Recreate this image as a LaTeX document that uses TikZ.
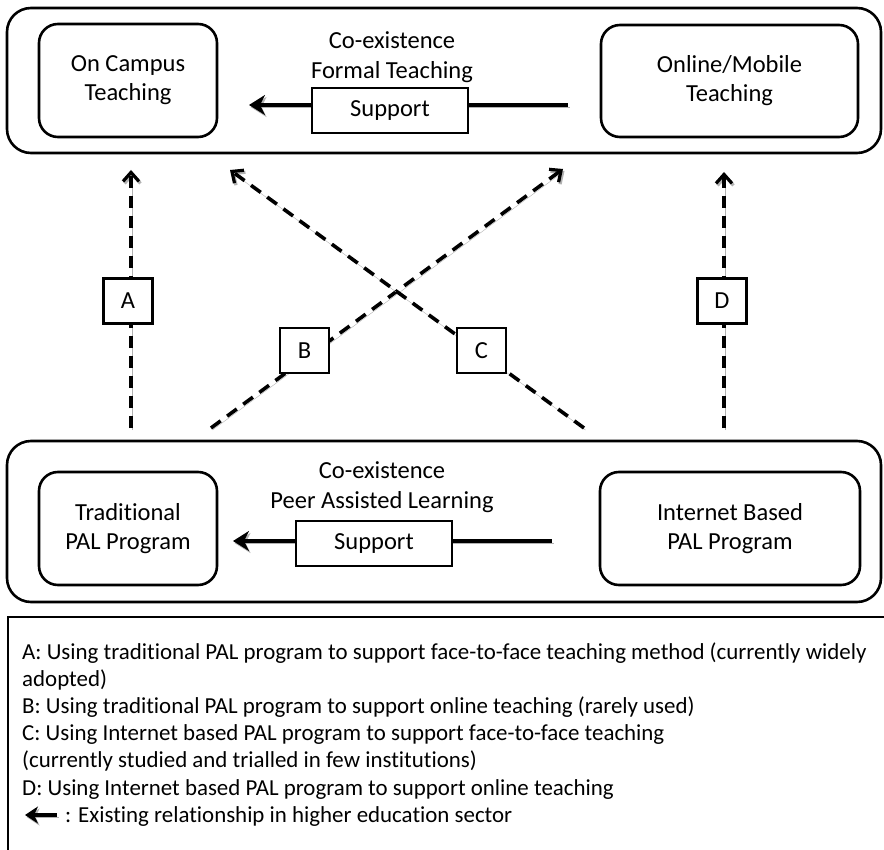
\documentclass[tikz,border=0pt]{standalone}
\usepackage{fontspec}
\setmainfont{Carlito}[Ligatures=NoCommon]
\usetikzlibrary{arrows.meta,positioning}
\tikzset{
  shade/.style={preaction={draw=gray!60, transform canvas={shift={(1.5pt,-2pt)}}}},
  grp/.style={draw, line width=2.6pt, rounded corners=24pt, inner sep=0pt},
  unit/.style={draw, line width=2.6pt, rounded corners=19pt, align=center, inner sep=0pt, font=\fontsize{24.5}{29}\selectfont},
  title/.style={align=center, font=\fontsize{24.5}{30}\selectfont},
  suppbox/.style={draw, line width=2.2pt, fill=white, minimum width=156pt, minimum height=45pt, inner sep=0pt, font=\fontsize{24.5}{29}\selectfont},
  tag/.style={draw, line width=2.2pt, fill=white, minimum width=49pt, minimum height=45pt, inner sep=0pt, font=\fontsize{24.5}{29}\selectfont},
  rel/.style={shade, line width=4.5pt, -{Stealth[length=16pt,width=20pt,inset=5pt]}},
  link/.style={shade, line width=3.6pt, dash pattern=on 12pt off 8pt, -{Straight Barb[length=9pt,width=16pt,line width=3.2pt]}},
  note/.style={anchor=base west, inner sep=0pt, font=\fontsize{22.9}{27}\selectfont}
}
\begin{document}
\begin{tikzpicture}[x=1pt,y=-1pt]
    \useasboundingbox (0,0) rectangle (884,850);
    \clip (0,0) rectangle (884,850);
    \node[grp, minimum width=874pt, minimum height=145pt] (formal) at (444,80.5) {};
    \node[grp, minimum width=874pt, minimum height=161pt] (pal) at (444,521.5) {};
    \node[unit, minimum width=178pt, minimum height=113pt] (campus) at (128,80.5) {On Campus\\Teaching};
    \node[unit, minimum width=257pt, minimum height=112pt] (online) at (729.5,81) {Online/Mobile\\Teaching};
    \node[unit, minimum width=178pt, minimum height=113pt] (trad) at (128,528.5) {Traditional\\PAL Program};
    \node[unit, minimum width=260pt, minimum height=113pt] (inet) at (730,528.5) {Internet Based\\PAL Program};
    \node[title] (ftitle) at (392,57) {Co-existence\\Formal Teaching};
    \node[title] (ptitle) at (382,487.5) {Co-existence\\Peer Assisted Learning};
    \coordinate (f1) at (568,105);
    \coordinate (f0) at (249,105);
    \coordinate (p1) at (552,541);
    \coordinate (p0) at (233,541);
    \draw[rel] (f1) -- (f0);
    \draw[rel] (p1) -- (p0);
    \node[suppbox] (fsupp) at (390,110.5) {Support};
    \node[suppbox] (psupp) at (374,543.5) {Support};
    \coordinate (a0) at (131,428);
    \coordinate (a1) at (131,170);
    \coordinate (b0) at (211,428);
    \coordinate (b1) at (563,169);
    \coordinate (c0) at (584,428);
    \coordinate (c1) at (230,170);
    \coordinate (d0) at (724,428);
    \coordinate (d1) at (724,172);
    \draw[link] (a0) -- (a1);
    \draw[link] (b0) -- (b1);
    \draw[link] (c0) -- (c1);
    \draw[link] (d0) -- (d1);
    \node[tag] (ta) at (128,301) {A};
    \node[tag] (tb) at (304.5,350.5) {B};
    \node[tag] (tc) at (481.5,350.5) {C};
    \node[tag] (td) at (722,301) {D};
    \draw[line width=2.2pt] (8,900) -- (8,617) -- (900,617);
    \foreach \t [count=\i from 0] in {
        {A: Using traditional PAL program to support face-to-face teaching method (currently widely},
        {adopted)},
        {B: Using traditional PAL program to support online teaching (rarely used)},
        {C: Using Internet based PAL program to support face-to-face teaching},
        {(currently studied and trialled in few institutions)},
        {D: Using Internet based PAL program to support online teaching}}
        \node[note] (n\i) at (22,659+27.2*\i) {\t};
    \coordinate (k1) at (57,815);
    \coordinate (k0) at (25,815);
    \draw[rel, line width=4pt, -{Stealth[length=13pt,width=17pt,inset=4pt]}] (k1) -- (k0);
    \node[note] (key) at (65,822) {: Existing relationship in higher education sector};
\end{tikzpicture}
\end{document}
